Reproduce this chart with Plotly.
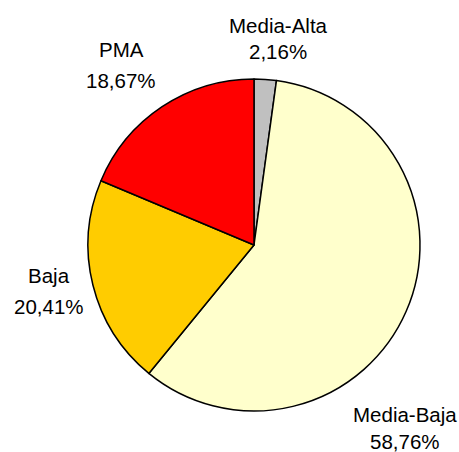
import plotly.graph_objects as go

W, H = 459, 452

labels = ["Media-Alta", "Media-Baja", "Baja", "PMA"]
values = [2.16, 58.76, 20.41, 18.67]
colors = ["#C0C0C0", "#FFFFCC", "#FFCC00", "#FF0000"]
# label positions in window pixels: (x, y of name line, y of percent line)
label_px = [(278, 25, 51), (405, 414, 441), (49, 275.5, 306), (121, 49.5, 80.5)]

def pct(v):
    return f"{v:.2f}".replace(".", ",") + "%"

def px_x(x):
    return x / W

def px_y(y):
    return 1 - y / H

fig = go.Figure(go.Pie(
    labels=labels,
    values=values,
    marker=dict(colors=colors, line=dict(color="black", width=1.5)),
    sort=False,
    direction="clockwise",
    rotation=0,
    textinfo="none",
    hoverinfo="label+percent",
    showlegend=False,
    domain=dict(x=[px_x(88), px_x(420)], y=[px_y(411.5), px_y(78.5)]),
))

font = dict(family="Liberation Sans, Arial, sans-serif", size=20.5, color="#000000")
anns = []
for lab, v, (px, py1, py2) in zip(labels, values, label_px):
    anns.append(dict(x=px_x(px), y=px_y(py1), xref="paper", yref="paper",
                     text=lab, showarrow=False, xanchor="center", yanchor="middle", font=font))
    anns.append(dict(x=px_x(px), y=px_y(py2), xref="paper", yref="paper",
                     text=pct(v), showarrow=False, xanchor="center", yanchor="middle", font=font))

fig.update_layout(
    width=W, height=H,
    margin=dict(l=0, r=0, t=0, b=0),
    paper_bgcolor="white", plot_bgcolor="white",
    annotations=anns,
)

fig.write_html(
    "out.html",
    config={"displayModeBar": False},
    post_script="document.body.style.margin='0';document.body.style.overflow='hidden';",
)
